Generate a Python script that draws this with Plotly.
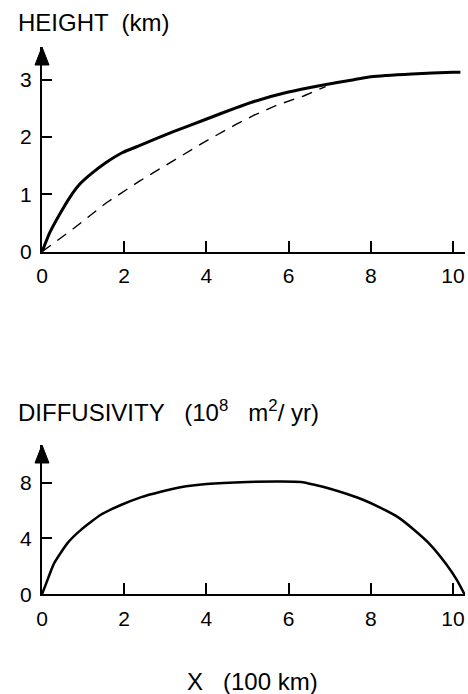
import plotly.graph_objects as go

# height profile (km) vs distance X (100 km)
height_x = [0, 0.18, 0.42, 0.67, 0.91, 1.15, 1.55, 1.96, 2.37, 3.18, 3.99, 4.72,
            5.16, 5.97, 6.78, 7.59, 8.0, 9.0, 10.0, 10.18]
height_solid = [0, 0.32, 0.64, 0.94, 1.17, 1.33, 1.55, 1.73, 1.85, 2.09, 2.31, 2.51,
                2.62, 2.78, 2.9, 3.0, 3.05, 3.1, 3.13, 3.13]

dashed_x = [0, 0.76, 1.56, 2.37, 3.18, 3.99, 4.72, 5.16, 5.73, 6.38, 6.9]
height_dashed = [0, 0.40, 0.85, 1.23, 1.58, 1.93, 2.22, 2.38, 2.56, 2.72, 2.88]

# diffusivity (10^8 m^2/yr)
diff_x = [0, 0.13, 0.29, 0.62, 0.94, 1.43, 1.92, 2.4, 2.89, 3.37, 4.0, 5.0, 5.83,
          6.3, 6.63, 7.03, 7.44, 7.84, 8.24, 8.65, 9.05, 9.45, 9.85, 10.1, 10.28]
diff_y = [0, 1.0, 2.2, 3.67, 4.6, 5.7, 6.4, 6.95, 7.35, 7.67, 7.9, 8.05, 8.08,
          8.05, 7.85, 7.55, 7.17, 6.74, 6.2, 5.55, 4.63, 3.55, 2.1, 1.0, 0]

x_ticks = [0, 2, 4, 6, 8, 10]
height_ticks = [0, 1, 2, 3]
diff_ticks = [0, 4, 8]

W, H = 468, 694
FONT = "Liberation Sans, Arial, sans-serif"


def fx(px):
    return px / W


def fy(py):
    return 1 - py / H


x_dom = [fx(42), fx(42 + 10.3 * 41.1)]
top_dom = [fy(251.7), fy(47)]
bot_dom = [fy(594.3), fy(445)]

fig = go.Figure()

fig.add_trace(go.Scatter(x=height_x, y=height_solid, mode='lines',
                         line=dict(color='black', width=3, shape='spline', smoothing=0.3),
                         xaxis='x', yaxis='y', showlegend=False))
fig.add_trace(go.Scatter(x=dashed_x, y=height_dashed, mode='lines',
                         line=dict(color='black', width=1.4, dash='11px,8px'),
                         xaxis='x', yaxis='y', showlegend=False))
fig.add_trace(go.Scatter(x=diff_x, y=diff_y, mode='lines',
                         line=dict(color='black', width=2.5, shape='spline', smoothing=0.5),
                         xaxis='x2', yaxis='y2', showlegend=False))

axis_common = dict(showline=True, linecolor='black', linewidth=2, showgrid=False,
                   zeroline=False, ticks='inside', tickcolor='black', tickwidth=1.5,
                   automargin=False, ticklabeloverflow='allow',
                   tickfont=dict(family=FONT, size=21, color='black'))

fig.update_layout(
    width=W, height=H,
    margin=dict(l=0, r=0, t=0, b=0),
    paper_bgcolor='white', plot_bgcolor='white',
    xaxis=dict(domain=x_dom, range=[0, 10.3], anchor='y', tickvals=x_ticks,
               ticklen=11, ticklabelstandoff=4, **axis_common),
    yaxis=dict(domain=top_dom, range=[0, 3.57], anchor='x', tickvals=height_ticks,
               ticklen=10, ticklabelstandoff=4, **axis_common),
    xaxis2=dict(domain=x_dom, range=[0, 10.3], anchor='y2', tickvals=x_ticks,
                ticklen=11, ticklabelstandoff=4, **axis_common),
    yaxis2=dict(domain=bot_dom, range=[0, 10.7], anchor='x2', tickvals=diff_ticks,
                ticklen=10, ticklabelstandoff=4, **axis_common),
)

# arrowheads on top of the y axes
for dom in (top_dom, bot_dom):
    fig.add_shape(type='path', xref='paper', yref='paper',
                  xsizemode='pixel', ysizemode='pixel',
                  xanchor=x_dom[0], yanchor=dom[1],
                  path='M -7,-18 L 7,-18 L 0,0 Z',
                  fillcolor='black', line=dict(color='black', width=1))

title_font = dict(family=FONT, size=24, color='black')
fig.add_annotation(text='HEIGHT  (km)', xref='paper', yref='paper',
                   x=fx(16), y=fy(22), xanchor='left', yanchor='middle',
                   showarrow=False, font=title_font)
fig.add_annotation(text='DIFFUSIVITY   (10<sup>8</sup>   m<sup>2</sup>/ yr)', xref='paper', yref='paper',
                   x=fx(16), y=fy(411), xanchor='left', yanchor='middle',
                   showarrow=False, font=title_font)
fig.add_annotation(text='X   (100 km)', xref='paper', yref='paper',
                   x=fx(252), y=fy(681), xanchor='center', yanchor='middle',
                   showarrow=False, font=title_font)

# drop the default page margin so the figure sits at the window origin
fig.write_html("out.html", config={'displayModeBar': False},
               post_script="document.body.style.margin='0';document.body.style.overflow='hidden';")
